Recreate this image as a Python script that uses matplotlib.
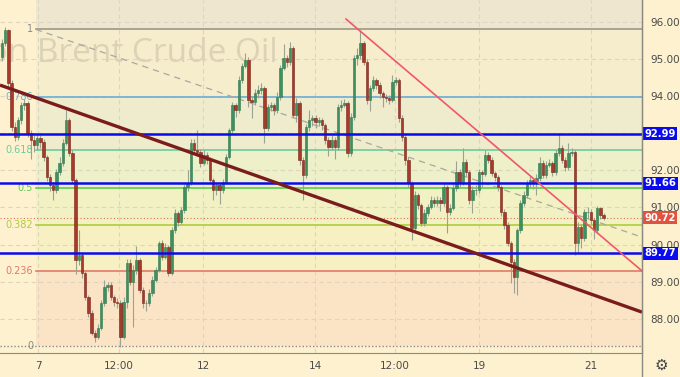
import numpy as np
import matplotlib
matplotlib.use('Agg')
from matplotlib import pyplot as plt
from matplotlib.transforms import blended_transform_factory

# hourly candles (prices)
first_open = 95.06
closes = [95.43, 95.78, 94.36, 93.17, 92.90, 93.36, 93.76, 93.82, 93.01, 92.82,
          92.68, 92.87, 92.77, 92.36, 91.82, 91.61, 91.47, 91.96, 92.20, 92.74,
          93.36, 92.47, 91.74, 89.59, 89.72, 89.23, 88.59, 88.16, 87.62, 87.51,
          87.75, 88.43, 88.86, 88.91, 88.59, 88.45, 88.43, 87.51, 88.45, 89.50,
          88.99, 89.32, 89.59, 88.78, 88.43, 88.43, 88.70, 89.05, 89.32, 90.04,
          89.67, 89.94, 89.23, 90.39, 90.85, 90.61, 90.93, 91.55, 91.66, 92.74,
          92.55, 92.50, 92.20, 92.42, 92.28, 91.74, 91.47, 91.61, 91.47, 91.69,
          92.36, 93.09, 93.76, 93.63, 94.44, 94.81, 94.98, 93.90, 93.84, 94.09,
          94.17, 94.22, 93.14, 93.71, 93.76, 93.63, 93.98, 94.76, 95.03, 94.92,
          95.30, 93.49, 93.82, 92.28, 91.88, 93.17, 93.36, 93.41, 93.30, 93.36,
          93.22, 92.82, 92.63, 92.82, 92.63, 93.71, 93.76, 93.82, 92.47, 93.44,
          95.03, 95.11, 95.43, 94.92, 93.90, 94.22, 94.44, 94.30, 94.09, 93.98,
          93.95, 93.90, 94.38, 94.44, 93.41, 92.90, 92.28, 91.66, 90.45, 91.34,
          91.07, 90.58, 90.85, 91.01, 91.20, 91.12, 91.20, 91.12, 91.55, 90.88,
          90.99, 91.53, 91.96, 91.66, 92.23, 91.96, 91.20, 91.47, 91.47, 91.96,
          91.90, 92.42, 92.28, 91.93, 91.82, 91.55, 90.88, 90.53, 90.04, 89.53,
          89.13, 90.39, 91.12, 91.34, 91.66, 91.74, 91.69, 91.80, 92.20, 91.88,
          92.15, 92.20, 91.96, 92.47, 92.60, 92.28, 92.09, 92.47, 92.50, 90.04,
          90.47, 90.18, 90.88, 90.88, 90.66, 90.39, 90.99, 90.80, 90.72]
highs = [95.55, 95.87, 95.82, 94.45, 93.30, 93.45, 93.85, 93.92, 93.88, 93.10,
         92.95, 92.98, 92.95, 92.85, 92.42, 91.90, 91.70, 92.05, 92.35, 92.85,
         93.62, 93.40, 92.55, 91.80, 90.40, 89.80, 89.30, 88.65, 88.25, 87.70,
         87.85, 88.50, 89.05, 89.00, 88.98, 88.65, 88.55, 88.50, 88.60, 89.60,
         89.62, 89.45, 89.95, 89.65, 88.85, 88.52, 88.80, 89.15, 89.40, 90.10,
         90.12, 90.05, 90.00, 90.48, 90.95, 90.90, 91.00, 91.62, 92.00, 92.85,
         92.85, 93.09, 92.58, 92.55, 92.50, 92.35, 91.80, 91.70, 91.68, 91.78,
         92.45, 93.15, 93.85, 93.82, 94.55, 94.90, 95.16, 95.05, 94.00, 94.20,
         94.30, 94.35, 94.28, 93.80, 93.85, 93.82, 94.10, 94.85, 95.40, 95.10,
         95.46, 95.35, 93.95, 93.88, 92.35, 93.25, 93.63, 93.50, 93.50, 93.45,
         93.42, 93.28, 92.90, 92.95, 92.90, 93.80, 93.90, 93.92, 93.88, 93.55,
         95.10, 95.30, 95.78, 95.50, 95.00, 94.30, 94.55, 94.50, 94.38, 94.15,
         94.05, 94.02, 94.57, 94.52, 94.50, 93.48, 92.98, 92.35, 91.72, 91.45,
         91.40, 91.12, 90.95, 91.10, 91.30, 91.28, 91.30, 91.28, 91.65, 91.60,
         91.10, 91.62, 92.25, 92.05, 92.60, 92.30, 92.02, 91.58, 91.60, 92.05,
         92.02, 92.55, 92.50, 92.35, 91.98, 91.88, 91.60, 90.95, 90.60, 90.10,
         89.60, 90.45, 91.20, 91.45, 91.75, 91.85, 91.80, 91.90, 92.35, 92.28,
         92.25, 92.30, 92.25, 92.55, 93.01, 92.68, 92.35, 92.75, 92.60, 92.55,
         90.60, 90.55, 90.95, 91.00, 90.95, 90.72, 91.05, 91.02, 90.85]
lows = [94.95, 95.35, 94.25, 93.05, 92.80, 92.82, 93.25, 93.62, 92.90, 92.30,
        92.50, 92.55, 92.60, 92.25, 91.72, 91.45, 91.20, 91.40, 91.88, 92.12,
        92.68, 92.40, 91.65, 89.20, 89.45, 89.10, 88.50, 88.05, 87.55, 87.37,
        87.45, 87.70, 88.35, 88.75, 88.50, 88.35, 88.30, 87.24, 87.45, 88.30,
        88.90, 87.78, 89.20, 88.70, 88.30, 88.20, 88.35, 88.62, 88.98, 89.25,
        89.58, 89.60, 89.15, 89.18, 90.30, 90.50, 90.55, 90.85, 91.45, 91.60,
        92.45, 92.40, 92.10, 92.15, 92.18, 91.65, 91.20, 91.35, 91.10, 91.40,
        91.62, 92.30, 93.00, 93.45, 93.55, 94.35, 94.75, 93.70, 93.40, 93.75,
        93.95, 94.05, 92.75, 93.05, 93.60, 93.50, 93.55, 93.90, 94.70, 94.80,
        94.85, 93.40, 93.30, 92.15, 91.20, 91.80, 93.05, 93.20, 93.15, 93.20,
        93.10, 92.70, 92.40, 92.55, 92.30, 92.55, 93.60, 93.70, 92.35, 92.40,
        93.35, 94.85, 95.00, 94.85, 93.80, 93.60, 94.15, 94.20, 93.95, 93.70,
        93.85, 93.80, 93.85, 94.30, 93.30, 92.80, 92.15, 91.55, 90.12, 90.38,
        90.95, 90.50, 90.50, 90.78, 90.95, 91.02, 91.05, 90.90, 91.05, 90.30,
        90.80, 90.92, 91.45, 91.55, 91.60, 91.85, 91.10, 90.85, 91.35, 91.40,
        91.55, 91.85, 92.20, 91.85, 91.72, 91.45, 90.78, 90.42, 89.95, 88.97,
        88.70, 88.65, 90.30, 91.05, 91.25, 91.55, 91.50, 91.35, 91.72, 91.80,
        91.80, 92.08, 91.85, 91.88, 92.40, 92.20, 91.98, 92.02, 92.38, 89.72,
        89.80, 89.90, 90.10, 90.70, 90.55, 90.15, 90.30, 90.70, 90.65]
opens = [first_open] + closes[:-1]

# axis text
price_ticks = [88, 89, 90, 91, 92, 93, 94, 95, 96]
price_labels = ['88.00', '89.00', '90.00', '91.00', '92.00', '', '94.00', '95.00', '96.00']
time_pos = [11.25, 36.6, 62.8, 97.8, 122.8, 149.1, 184.1]
time_labels = ['7', '12:00', '12', '14', '12:00', '19', '21']

# drawings
fib_low, fib_high = 87.27, 95.80
fib_start = 10.6
fib_ratios = [0, 0.236, 0.382, 0.5, 0.618, 0.786, 1]
fib_colors = ['#9a9a9a', '#e07a6a', '#b0cc3c', '#5ccc4c', '#6ccc9c', '#6aaed8', '#a0968a']
fib_fills = ['#fbe4c6', '#f6f0c2', '#f1f1c4', '#edf0c8', '#eeeccc', '#f5edcc']
fib_top_fill = '#efe6cf'
levels = [92.99, 91.66, 89.77]
last_price = 90.72
main_trend_x = [-0.625, 200]
main_trend_y = [94.30, 88.18]
red_trend_x = [107.5, 200]
red_trend_y = [96.08, 89.29]
fib_diag_x = [fib_start, 200]
fib_diag_y = [95.80, 90.20]

bg = '#fdf1cf'
fig = plt.figure(figsize=(6.8, 3.77), dpi=100, facecolor=bg)
ax = fig.add_axes([0, 24/377, 642/680, 353/377], facecolor=bg)
xmin, xmax = -0.625, 200
ymin, ymax = 87.078, 96.593
ax.set_xlim(xmin, xmax)
ax.set_ylim(ymin, ymax)

# fib zones
fl = [fib_low + r*(fib_high-fib_low) for r in fib_ratios]
ax.fill_between([fib_start, xmax], fl[-1], ymax, color=fib_top_fill, lw=0, zorder=0)
for k in range(len(fl)-1):
    ax.fill_between([fib_start, xmax], fl[k], fl[k+1], color=fib_fills[k], lw=0, zorder=0)

# grid
for p in price_ticks:
    ax.axhline(p, color='#ddd5c0', lw=0.8, ls=(0, (4, 3)), zorder=1)
for t in time_pos:
    ax.axvline(t, color='#ddd5c0', lw=0.8, ls=(0, (4, 3)), zorder=1)

# watermark
ax.text(86.3, 94.92, 'London Brent Crude Oil', family='Open Sans', fontsize=24,
        color='#ddd2b6', ha='right', va='baseline', zorder=1, clip_on=True)

# fib lines
for k, r in enumerate(fib_ratios):
    if r == 0:
        ax.plot([xmin, xmax], [fl[k]]*2, color='#8a8a8a', lw=1.0, ls=(0, (1, 1.5)), zorder=2)
    else:
        ax.plot([fib_start, xmax], [fl[k]]*2, color=fib_colors[k], lw=1.2, zorder=2)
    lab = '0' if r == 0 else ('1' if r == 1 else ('%g' % r))
    ax.text(fib_start - 0.9, fl[k], lab, color=fib_colors[k] if 0 < r < 1 else '#8a8a8a',
            fontsize=7, ha='right', va='center', zorder=3)
ax.plot(fib_diag_x, fib_diag_y, color='#a8a8a0', lw=0.9, ls=(0, (5, 4)), zorder=2)

# current price dotted
ax.axhline(last_price, color='#e07050', lw=0.8, ls=(0, (1, 2)), zorder=2)

# candles
x = np.arange(len(closes))
o = np.array(opens)
c = np.array(closes)
up = c >= o
ax.vlines(x, lows, highs, color='#9aa294', lw=0.8, zorder=4)
ax.bar(x[up], (c - o)[up], bottom=o[up], width=0.72, color='#3f9060',
       edgecolor='#2f7a4e', lw=0.4, zorder=5)
ax.bar(x[~up], (c - o)[~up], bottom=o[~up], width=0.72, color='#a83a2c',
       edgecolor='#7a2418', lw=0.4, zorder=5)

# levels and trend lines
for lv in levels:
    ax.axhline(lv, color='#0a0af0', lw=1.8, zorder=6)
ax.plot(main_trend_x, main_trend_y, color='#7a1c1c', lw=2.4, zorder=7, solid_capstyle='butt')
ax.plot(red_trend_x, red_trend_y, color='#f2566c', lw=1.2, zorder=7)

# axes look
for s in ['top', 'left']:
    ax.spines[s].set_visible(False)
ax.spines['right'].set_color('#8a8a80')
ax.spines['bottom'].set_color('#8a8a80')
ax.yaxis.tick_right()
ax.set_yticks(price_ticks)
ax.set_yticklabels(price_labels)
ax.set_xticks(time_pos)
ax.set_xticklabels(time_labels)
ax.tick_params(axis='y', length=0, pad=6, labelsize=7.5, labelcolor='#4a4a4a')
ax.tick_params(axis='x', length=0, pad=6, labelsize=7.5, labelcolor='#4a4a4a')

# price tags
tr = blended_transform_factory(ax.transAxes, ax.transData)
for lv in levels:
    ax.text(1.004, lv, '%.2f' % lv, transform=tr, fontsize=7.2, color='white', weight='bold',
            ha='left', va='center', clip_on=False, zorder=10,
            bbox=dict(boxstyle='square,pad=0.15', fc='#0a0af0', ec='none'))
ax.text(1.004, last_price, '%.2f' % last_price, transform=tr, fontsize=7.2, color='white',
        weight='bold', ha='left', va='center', clip_on=False, zorder=10,
        bbox=dict(boxstyle='square,pad=0.15', fc='#e0533f', ec='none'))

# axis separator and gear
fig.add_artist(plt.Line2D([642/680]*2, [0, 1], color='#8a8a80', lw=1))
fig.text(661/680, 1 - 365/377, '\u2699', fontsize=11, color='#444444', ha='center', va='center')

fig.savefig('out.png', dpi=100, facecolor=bg)
